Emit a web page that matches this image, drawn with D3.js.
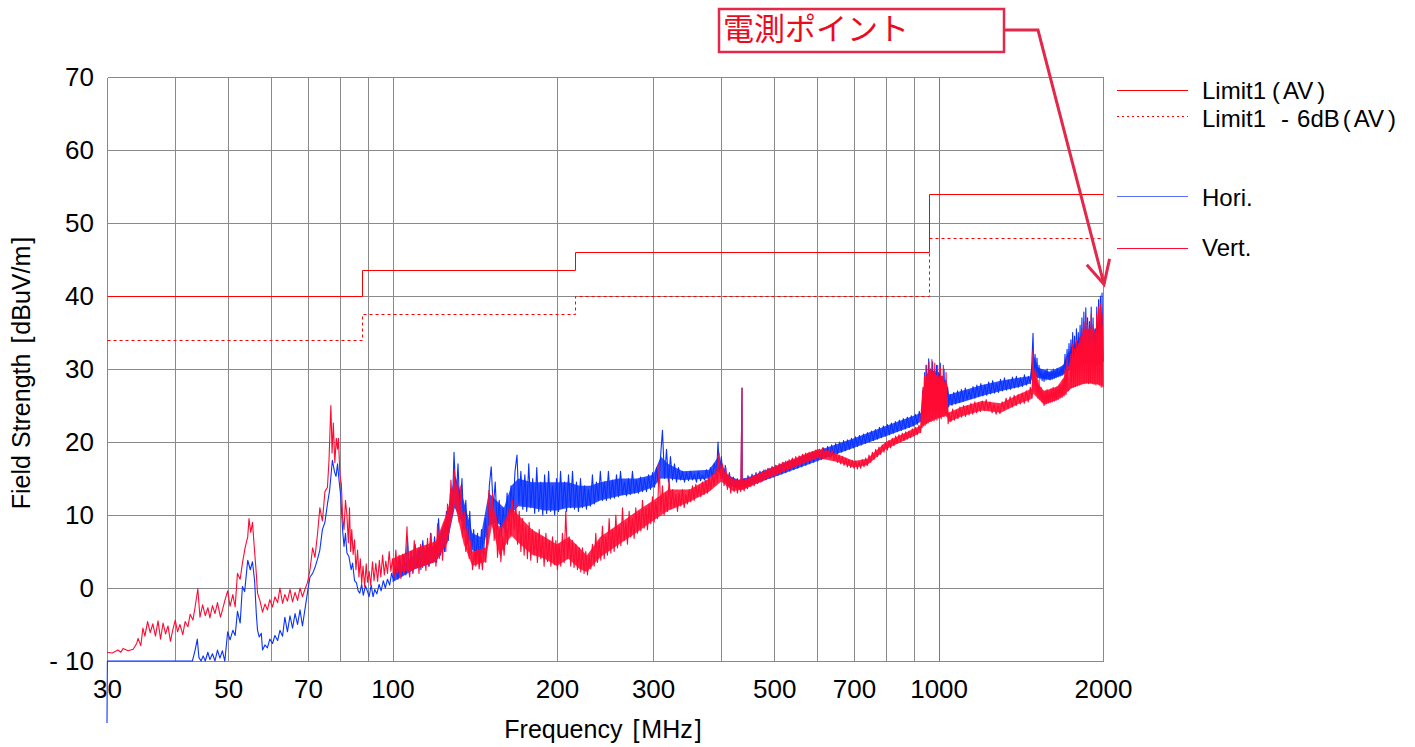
<!DOCTYPE html>
<html><head><meta charset="utf-8">
<script src="https://cdn.jsdelivr.net/npm/d3@7"></script>
<style>
body{margin:0;background:#fff;}
svg{display:block;font-family:"Liberation Sans",Arial,sans-serif;}
</style></head><body>
<svg id="c" width="1415" height="747"></svg>
<script>
// ---------- data ----------
const xTicks=[30,50,70,100,200,300,500,700,1000,2000];
const xGrid=[30,40,50,60,70,80,90,100,200,300,400,500,600,700,800,900,1000,2000];
const yTicks=[-10,0,10,20,30,40,50,60,70];
const limitAV=[[30,40],[88,40],[88,43.5],[216,43.5],[216,46],[960,46],[960,54],[2000,54]];
const limitAV6=[[30,34],[88,34],[88,37.5],[216,37.5],[216,40],[960,40],[960,48],[2000,48]];

// Hori. trace (MHz, dBuV/m)
const horiData=[
[30,-18.5],[30.05,-10],[43,-10],[43.5,-8.5],[43.9,-7],[44.2,-9.5],[44.6,-10],[45,-9.3],[45.4,-10],[45.9,-8.8],[46.3,-9.8],[46.8,-9],[47.3,-10],[47.8,-8.5],[48.3,-9.6],[48.8,-8.6],[49.3,-10],
[49.9,-6],[50.4,-7.1],[51,-5.8],[51.5,-6.5],[52,-3.2],[52.6,-4.8],[53.1,0.2],[53.6,-0.5],[54.3,3.8],[54.9,2.5],[55.4,3.6],[55.9,1],[56.3,-3.5],[56.6,-5.8],[57,-6.7],[57.5,-6.2],[57.8,-8.5],
[58.4,-7.8],[59,-8.2],[59.6,-7],[60.3,-7.6],[60.9,-6.5],[61.6,-7.2],[62.2,-5.8],[62.9,-6.6],[63.5,-4],[64.2,-6],[64.9,-3.8],[65.6,-5.5],[66.3,-3.5],[67,-5],[67.7,-3],[68.4,-5.2],[69.1,-3],
[69.9,-0.5],[70.6,1.5],[71.4,2],[72.1,2.8],[72.9,4],[73.6,5.2],[74.4,8],[75.2,9],[76,11.5],[76.7,13.4],[77.6,17.5],[78.3,15.9],[78.8,15.3],[79.3,17],[79.8,14.8],[80.4,12.5],[81,8],[81.5,5.7],
[82,7.5],[82.5,4.8],[83.2,4.3],[84,2.5],[84.5,3.4],[85.2,1],[85.9,0.7],[86.5,-0.4],[87.1,-0.7],[87.8,0.5],[88.4,-1],[89.2,0.3],[90,-0.5],[90.6,-1.2],[91.4,0.4],[92.1,-1.2],[92.8,-0.2],[93.6,-0.8],
[94.5,0.5],[95.3,-0.4],[96.2,1],[97,0],[97.9,1.2],[98.8,0.4],[99.6,2],[100.5,1],[101.4,3],[102.3,1.2],[103.2,4],[104,1.6],[104.9,4.5],[105.8,1.8],[106.5,7],[107.3,2.5],[108.2,5],[109,2],[110,6],
[110.9,2.8],[111.8,5.5],[112.7,2.5],[113.6,6.5],[114.6,3.2],[115.5,5.8],[116.5,3],[117.4,7.5],[118.4,3.8],[119.4,7],[120.4,3.5],[121.4,9.5],[122.4,4.5],[123.4,8],[124.5,5],[125.5,10.5],[126.5,6.5],
[127.6,13],[128.6,10],[129.6,18.6],[130.7,12],[131.8,17],[132.9,10],[134,15],[135.1,8],[136.2,12],[137.3,6],[138.5,10.5],[139.6,5],[140.8,8],[141.9,3.5],[143.1,7.5],[144.3,3.5],[145.5,8],[146.7,4],
[147.9,9.5],[149.2,6],[150.4,14],[151.6,16.6],[152.9,11],[154.2,14.5],[155.5,8],[156.8,12],[158.1,7],[159.4,11],[160.8,7.5],[162.1,13],[163.5,9],[164.8,14],[166.2,10.5],[167.6,16],[169,18.2],
[170.4,11.5],[171.8,16],[173.2,10.8],[174.7,15.5],[176.1,10.5],[177.6,17],[179.1,11],[180.6,15],[182.1,10.2],[183.7,16.5],[185.2,10.5],[186.8,14.5],[188.4,10],[189.9,15.5],[191.5,10.2],[193.1,16],
[194.8,10.5],[196.4,14],[198.1,10],[199.7,15],[201.4,10.5],[203.1,16],[204.8,11],[206.5,14.5],[208.3,10.5],[210,15.5],[211.8,11],[213.6,16],[215.4,10.8],[217.2,14.5],[219,10.5],[220.9,15],[222.7,11],
[224.6,14],[226.5,10.8],[228.4,13.5],[230.3,11.2],[232.3,15.5],[234.2,11.5],[236.2,14.5],[238.2,12],[240.2,16],[242.3,12],[244.3,14.5],[246.4,12],[248.5,16],[250.6,12.2],[252.8,14.8],[254.9,12.3],
[257.1,15.5],[259.3,12.5],[261.5,16],[263.7,12.8],[265.9,14.5],[268.2,12.6],[270.4,15],[272.7,12.8],[275,16],[277.4,13],[279.7,14.8],[282.1,13],[284.5,15.2],[286.9,13.2],[289.4,15],[291.8,13.2],
[294.3,15.5],[296.8,13.5],[299.3,15.8],[301.8,13.8],[304.4,16.5],[307,14],[309.6,18],[312.1,21.6],[314.8,15],[317.5,19],[320.1,14.5],[322.8,18],[325.6,14.8],[328.3,17],[331.1,14.5],[333.9,16.5],
[336.8,14.8],[339.6,16],[342.5,14.5],[345.4,15.8],[348.3,14.7],[351.3,16],[354.2,14.8],[357.2,15.6],[360.2,14.5],[363.3,16],[366.4,14.7],[369.4,15.5],[372.6,14.8],[375.7,16.2],[378.9,15],[382.1,16.5],
[385.3,15.2],[388.6,17],[391.9,15.5],[394.5,20],[397,16],[400,18],[403.5,14.5],[406.8,16.8],[410.3,13.8],[413.8,15.8],[417.3,14],[420.8,15.2],[424.3,13.8],[427.9,15],[431.5,13.6],[434.7,14.8],
[436.5,27.4],[436.9,14],[440.3,15],[444,13.8],[447.7,15.4],[451.5,14],[455.3,15.6],[459.1,14.2],[463,15.8],[466.9,14.4],[470.8,16],[474.8,14.6],[478.8,16.2],[482.8,14.8],[486.9,16.4],[491,15],
[495.1,16.6],[499.3,15.2],[503.5,16.8],[507.7,15.4],[512,17],[516.3,15.6],[520.7,17.2],[525.1,15.8],[529.5,17.4],[534,16],[538.5,17.6],[543,16.2],[547.6,17.8],[552.2,16.4],[556.9,18],[561.6,16.6],
[566.3,18.2],[571.1,16.8],[575.9,18.4],[580.7,17],[585.6,18.6],[590.6,17.2],[595.6,18.8],[600.5,17.4],[605.6,19],[610.7,17.6],[615.9,19.2],[621,17.8],[626.3,19.4],[631.5,18],[636.9,19.6],[642.2,18.2],
[647.7,19.8],[653.1,18.4],[658.6,20],[664.2,18.6],[669.8,20.2],[675.4,18.8],[681.1,20.3],[686.9,19],[692.7,20.5],[698.5,19.2],[704.4,20.7],[710.3,19.4],[716.3,20.9],[722.4,19.6],[728.5,21.1],
[734.6,19.8],[740.8,21.3],[747,20],[753.3,21.5],[759.7,20.2],[766.1,21.7],[772.6,20.4],[779.1,22],[785.7,20.6],[792.3,22.2],[799,20.8],[805.7,22.4],[812.5,21],[819.4,22.6],[826.3,21.2],[833.3,22.8],
[840.3,21.4],[847.4,23],[854.5,21.6],[861.7,23.2],[869,21.8],[876.3,23.4],[883.7,22],[891.2,23.6],[898.7,22.2],[906.3,23.8],[913.9,22.4],[921.6,24.2],[929.4,22.8],
[935,27],[939,24],[943,29.5],[947,24.2],[951,30.5],[955,24.3],[959,31.4],[963,24.5],[967,30],[971,24.6],[975,31],[979,24.8],[983,29.8],[987,24.7],[991,30.5],[995,25],[999,29.5],[1003,25],[1007,30.8],
[1011,25.2],[1015,29],[1019,25.3],[1023,30],[1027,25.4],[1031,28.5],[1035,25.5],[1039,27.5],[1043,24.8],
[1050,26.5],[1058,25],[1066,26.8],[1075,25.2],[1083,27],[1092,25.4],[1101,27.2],[1110,25.6],[1119,27.4],[1128,25.8],[1137,27],[1146,25.9],[1156,27.6],[1165,26],[1175,27.8],[1185,26.2],[1195,28],
[1205,26.3],[1215,27.8],[1225,26.4],[1235,28.2],[1245,26.6],[1256,28.4],[1266,26.7],[1277,28],[1287,26.8],[1298,28.6],[1309,27],[1320,28.8],[1331,27.1],[1342,28.5],[1354,27.2],[1365,28.9],[1377,27.4],
[1388,29],[1400,27.5],[1412,28.8],[1424,27.6],[1436,29.2],[1448,27.8],[1460,29],[1472,28],[1480,30],[1489,34.9],[1495,29],[1502,32],[1508,29],[1514,31.5],[1520,28.8],[1527,30.5],[1533,28.6],
[1540,29.8],[1547,28.4],[1553,29.5],[1560,28.3],[1567,29.8],[1573,28.5],[1580,30],[1587,28.6],[1594,29.6],[1600,28.5],[1607,29.8],[1614,28.6],[1621,30],[1628,28.7],[1635,29.7],[1641,28.8],
[1648,30.1],[1655,28.9],[1662,29.8],[1669,29],[1676,30.2],[1683,29.1],[1690,30.5],[1697,29.3],[1704,32],[1711,29.5],[1719,32.7],[1726,29.8],[1733,33.5],
[1740,30],[1747,34],[1753,30.2],[1760,35],[1767,30.3],[1774,34.5],[1781,30.4],[1788,35.5],[1795,30.5],[1802,35],[1809,30.6],[1816,36],[1823,30.7],[1830,37],[1838,30.8],[1845,37.8],[1852,30.8],
[1860,38.4],[1867,30.9],[1874,37],[1882,30.8],[1889,36.5],[1896,30.9],[1903,38.5],[1911,30.8],[1918,37],[1926,30.7],[1933,35.5],[1941,30.6],[1948,38.5],[1956,30.8],[1963,39.5],[1970,30.6],
[1978,40],[1985,30.5],[1992,40.4],[2000,31]
];

// Vert. trace (MHz, dBuV/m)
const vertData=[
[30,-8.8],[30.7,-8.9],[31.4,-8.5],[31.8,-8.8],[32.1,-8.3],[32.8,-8.6],[33.5,-8.4],[34,-7.6],[34.2,-6.9],[34.6,-7.9],[34.9,-5.5],[35.2,-6.6],[35.6,-4.6],[36,-6.1],[36.4,-4.9],[36.8,-6.6],
[37.2,-4.5],[37.6,-7],[38,-4.8],[38.4,-6.3],[38.8,-5.2],[39.2,-7.3],[39.6,-5.7],[40,-4.4],[40.4,-6],[40.8,-5],[41.3,-6.4],[41.7,-4.6],[42.2,-5.3],[42.6,-3.6],[43.1,-4.4],[43.5,-2.6],[44,-0.1],
[44.4,-4],[44.9,-2.3],[45.4,-3.8],[45.9,-2.7],[46.3,-4.1],[46.8,-2.4],[47.3,-3.5],[47.8,-2],[48.4,-4],[48.9,-2.8],[49.4,-1.5],[49.9,-0.4],[50.4,-2.5],[51,-0.9],[51.5,-2.6],[52,2],[52.6,1.2],
[53.1,3.4],[53.7,5.5],[54.3,7],[54.6,9.5],[55,7.6],[55.4,9],[55.9,5],[56.3,2],[56.6,-0.7],[57.2,-1.8],[57.8,-3.3],[58.4,-2.2],[59,-3],[59.6,-1.6],[60.3,-2.6],[60.9,-1.2],[61.6,-2],[62.2,0],
[62.9,-2.1],[63.5,-0.9],[64.2,-1.8],[64.9,-0.2],[65.6,-1.9],[66.3,-0.6],[67,-1.7],[67.7,0],[68.4,-1.2],[69.1,-0.2],[69.9,0.8],[70.6,2.5],[71.4,5.5],[72.1,4.2],[72.9,7.5],[73.6,11],[74.4,9.2],
[75.2,13.2],[76,13.8],[76.5,17.5],[77.1,25],[77.5,18.5],[77.9,22.6],[78.4,17.2],[78.9,20.5],[79.3,19],[79.6,20.5],[80.1,15.5],[80.6,14.2],[81,9.8],[81.5,8],[82,12],[82.5,10],[83,6.2],[83.4,11],
[83.8,5],[84.2,8],[84.7,4.6],[85.2,6.6],[85.7,2.5],[86.3,5.2],[86.8,1.5],[87.3,4],[87.8,0.6],[88.3,3],[88.9,0.2],[89.5,3.3],[90,0.8],[90.6,2.3],[91.2,0.4],[91.9,3.6],[92.5,1],[93.2,3.4],[93.9,0.9],
[94.6,3.8],[95.2,1.5],[95.9,4.5],[96.6,1.8],[97.2,3.7],[97.9,2],[98.6,5],[99.3,2.3],[100,4],[100.7,1.5],[101.4,5.2],[102.1,2],[102.8,4.5],[103.6,1.3],[104.3,4.6],[105,2],[105.8,5.5],[106.3,8.4],
[106.8,3],[107.5,1.5],[108.2,5],[108.8,2.2],[109.6,6.5],[110.3,3],[111.1,5.2],[111.8,2],[112.6,6],[113.5,2.8],[114.3,5.5],[115.1,2.4],[115.9,6.8],[116.7,3],[117.6,7.5],[118.4,3.5],[119.2,6.2],
[120.1,3],[120.9,8.8],[121.8,4],[122.6,7],[123.5,3.8],[124.4,9],[125.2,5],[126.1,11.5],[127,8],[127.9,14.8],[128.8,11],[129.7,16.2],[130.6,12],[131.5,15],[132.4,9],[133.4,14],[134.3,7],[135.3,10.5],
[136.2,5],[137.2,8.5],[138.2,4],[139.2,6.5],[140.1,2.5],[141.1,5],[142.1,3],[143.1,5.5],[144.1,2.6],[145.1,4.8],[146.1,2.5],[147.1,5.5],[148.2,3.5],[149.2,8.5],[150.2,13.4],[151.3,9],[152.4,13],
[153.5,6.5],[154.6,10],[155.7,4.2],[156.8,8.5],[157.9,3.6],[159,7],[160.1,4.5],[161.3,9],[162.4,6],[163.5,11],[164.7,7],[165.8,12],[167,8],[168.2,11.5],[169.4,6],[170.6,10.5],[171.8,5],[173,9.5],
[174.2,4.5],[175.4,8.5],[176.6,4],[177.9,9],[179.1,3.8],[180.4,8],[181.7,4.5],[183,7.5],[184.2,3.5],[185.6,8],[186.9,4],[188.2,7],[189.5,3],[190.9,7.5],[192.2,3.6],[193.6,6.5],[195,3],[196.3,7],
[197.8,3.2],[199.1,6.5],[200.4,2.5],[201.8,6],[203.3,3],[204.7,7.5],[206.2,3.5],[207.6,10.5],[209.1,4],[210.6,7],[212,3],[213.5,6.5],[215,2.8],[216.6,6],[218.1,2.5],[219.7,5.5],[221.2,2.2],
[222.7,5.5],[224.3,2],[225.9,5],[227.5,1.8],[229.1,4.5],[230.7,2.6],[232.3,6],[234,3],[235.6,7.5],[237.3,3.5],[239,6.5],[240.7,3.8],[242.3,8.5],[244.1,4],[245.8,7],[247.5,4.5],[249.3,9.5],
[251,4.8],[252.8,8],[254.6,5],[256.4,10],[258.2,5.5],[260,8.5],[261.9,5.8],[263.7,11],[265.6,6.5],[267.4,9],[269.3,6],[271.2,10.5],[273.1,7],[275,9.5],[277,6.8],[278.9,11],[280.9,7.5],[282.9,10.5],
[284.9,7.8],[286.9,12],[288.9,8.2],[291,11],[293,8],[295.1,11.5],[297.1,8.8],[299.2,12.5],[301.3,9],[303.4,11.8],[305.6,9.5],[307.7,17],[309.9,10.5],[312.1,14],[314.3,10],[316.5,13],[318.8,10.5],
[321,15],[323.3,10.8],[325.6,13.5],[327.9,11],[330.2,12.8],[332.5,10.5],[334.9,13],[337.2,11.2],[339.6,13.5],[342,11],[344.4,12.8],[346.8,11.5],[349.3,13.5],[351.7,11.8],[354.2,14],[356.7,12],
[359.2,14.2],[361.7,12.5],[364.3,14],[366.8,12.5],[369.4,14.5],[372,12.8],[374.7,14.8],[377.3,13],[380,15.2],[382.6,13.5],[385.3,15.5],[388,14],[390.8,16.5],[393.5,14.5],[396.2,18.5],[399,15],
[401.9,17],[404.7,14],[407.6,16.5],[410.5,13.5],[413.3,15.5],[416.3,13],[419.2,15],[422.2,13.2],[425.1,14.8],[428.1,13],[431.1,14.5],[434.2,13.2],[436.5,27.4],[436.7,13.5],[437.3,14.5],[440.4,13.3],
[443.5,15],[446.6,13.6],[449.7,15.2],[452.9,13.9],[456.1,15.4],[459.3,14],[462.6,15.6],[465.8,14.3],[469.1,15.8],[472.4,14.5],[475.7,16],[479.1,14.8],[482.4,16.2],[485.8,15],[489.3,16.4],[492.7,15.2],
[496.2,16.6],[499.7,15.3],[503.2,16.8],[506.7,15.5],[510.3,17],[513.9,15.8],[517.5,17.2],[521.2,16],[524.8,17.4],[528.6,16.2],[532.3,17.6],[536,16.4],[539.8,17.8],[543.6,16.6],[547.5,18],[551.3,16.8],
[555.2,18.1],[559.1,17],[563.1,18.3],[567.1,17.2],[571.1,18.5],[575.1,17.3],[579.2,18.6],[583.2,17.5],[587.3,18.7],[591.5,17.6],[595.6,18.9],[599.8,17.8],[604.1,19],[608.3,18],[612.6,19.2],[617,18],
[621.3,19.1],[625.6,18.2],[630.1,18.9],[634.5,17.8],[638.9,18.8],[643.4,17.5],[648,18.5],[652.5,17.2],[657.1,18.2],[661.7,17],[666.4,18],[671.1,16.8],[675.8,17.8],[680.6,16.6],[685.4,17.6],[690.2,16.5],
[695.1,17.5],[700,16.4],[704.9,17.4],[709.9,16.3],[714.9,17.3],[720,16.4],[725,17.6],[730.1,16.6],[735.3,17.8],[740.4,16.8],[745.6,18.2],[750.9,17.2],[756.2,18.6],[761.5,17.6],[766.9,19],[772.3,18],
[777.7,19.3],[783.2,18.3],[788.7,19.6],[794.3,18.6],[799.9,19.9],[805.5,18.9],[811.2,20.2],[816.9,19.2],[822.6,20.5],[828.4,19.5],[834.2,20.8],[840.1,19.8],[846,21],[852,20],[858,21.2],[864.1,20.2],
[870.2,21.4],[876.3,20.4],[882.5,21.5],[888.7,20.6],[894.9,21.8],[901.2,20.8],[907.6,22],[914,21],[920.4,22.3],[926.9,21.3],
[930,24.5],[933,22],[936,27.5],[939,22.2],[942,29],[945,22.3],[948,30.5],[951,22.5],[954,29],[957,22.6],[960,31],[963,22.8],[966,30],[969,22.8],[972,31.3],[975,23],[978,29.5],[981,22.9],[984,30.8],
[987,23.2],[990,29],[993,23],[996,30.5],[999,23.3],[1002,28.5],[1005,23.4],[1008,30.2],[1011,23.2],[1014,29],[1017,23.6],[1020,30.5],[1023,23.5],[1026,28],[1029,23.8],[1032,29.5],[1035,23.5],
[1038,26],[1041,22.5],
[1045,24],[1053,22.8],[1061,24.5],[1069,23],[1077,24.3],[1085,23.2],[1094,24.8],[1102,23.4],[1111,25],[1120,23.5],[1128,25],[1137,23.7],[1146,25.3],[1155,23.8],[1165,25.5],[1174,24],[1183,25.4],
[1193,24.2],[1202,25.6],[1212,24.3],[1222,25.8],[1232,24.4],[1242,25.5],[1253,24],[1263,25.2],[1274,23.8],[1285,25],[1295,23.9],[1307,25.5],[1318,24.4],[1329,26],[1340,24.6],[1352,26.2],[1364,24.8],
[1375,26.4],[1387,25],[1399,26.5],[1411,25.2],[1422,26.7],[1435,25.3],[1447,27],[1459,25.5],[1472,27.5],[1483,26],[1489,32.6],[1495,27],[1502,30],[1508,26.5],[1514,29.5],[1520,26],[1527,28.5],
[1533,25.8],[1540,27.5],[1547,25.5],[1553,27],[1560,25],[1567,27],[1573,25.2],[1580,27.2],[1587,25.3],[1594,27],[1600,25.4],[1607,27.3],[1614,25.5],[1621,27.5],[1628,25.6],[1635,27.4],[1641,25.7],
[1648,27.6],[1655,25.8],[1662,27.8],[1669,26],[1676,27.9],[1683,26.1],[1690,28.5],[1697,26.3],[1704,30],[1711,26.5],[1719,31.5],[1726,27],
[1740,27.3],[1747,32],[1753,27.4],[1760,33.5],[1767,27.5],[1774,32.8],[1781,27.6],[1788,34],[1795,27.7],[1802,33.5],[1809,27.8],[1816,34.5],[1823,27.9],[1830,35.5],[1838,28],[1845,36.5],[1852,28],
[1860,37.2],[1867,28.1],[1874,36],[1882,28],[1889,35],[1896,28.1],[1903,37.5],[1911,28],[1918,36],[1926,27.9],[1933,34],[1941,27.8],[1948,37.5],[1956,28],[1963,38.5],[1970,27.8],[1978,39],
[1985,27.5],[1992,37.5],[2000,27.5]
];

// dense-noise core of each trace: [MHz, low, high]
const horiBand=[
[100,0.8,2.2],[110,2.6,4.6],[120,3.6,6],[126,6.2,10],[130,11,15.5],[135,8.5,12],[140,5.2,7.5],[145,4.2,7],[150,8.5,13],[155,9,12],[160,8.2,11],[165,10.2,14],[170,11.2,15],[180,11,14.5],
[190,10.6,14.5],[200,10.6,14.5],[210,11,14.5],[220,11,14],[230,11.3,14],[240,12,14.5],[260,12.6,15],[280,13,15],[300,13.8,15.5],[310,15,18],[320,15,17],[340,14.8,16],[380,15,16.2],
[395,16,18],[410,14,15.5],[430,13.8,14.8],[450,14,15.2],[500,15.2,16.6],[600,17.4,18.8],[700,19.2,20.5],[800,20.8,22.2],[900,22.2,23.6],[929,22.8,24],[935,24,27],[960,24.5,30],[1000,25,29.5],
[1036,25.5,28],[1045,25,26.5],[1100,25.4,27],[1200,26.3,27.8],[1300,27,28.4],[1400,27.5,28.8],[1470,28,29],[1490,29,32],[1520,28.8,30.2],[1600,28.5,29.6],[1690,29.2,30.5],[1720,29.6,32],
[1760,30.2,33],[1820,30.7,34.5],[1870,30.9,35.5],[1920,30.8,35],[1970,30.6,36.5],[2000,31,37]
];
const vertBand=[
[100,2,4],[110,2.6,5.4],[120,3.6,6.4],[126,6.2,10.5],[130,11.5,15],[135,6,9.5],[140,3,5],[148,3.6,5.5],[152,8.5,12],[157,4.5,8],[165,7.2,11],[170,6.2,10],[180,4.6,8],[190,4,7],[200,3,6],
[210,4,7],[220,2.6,5.5],[227,2.2,4.5],[240,4.2,7],[260,6,8.8],[280,7.6,10.5],[300,9.2,12],[320,10.6,13.5],[350,11.8,13.5],[380,13.2,15],[400,14.6,16.5],[420,13.3,14.9],[440,13.5,14.8],
[500,15.4,16.6],[600,17.8,19],[650,17.3,18.4],[700,16.5,17.4],[740,16.8,17.7],[800,19,20],[900,20.8,21.8],[927,21.3,22.2],[933,22.2,26.5],[960,22.7,30],[1000,23.3,29],[1036,23.6,28],
[1042,22.7,24],[1100,23.5,24.8],[1200,24.3,25.6],[1300,24,25.3],[1400,25.2,26.5],[1480,25.9,27.3],[1490,26.6,30],[1520,26,28],[1560,25.1,27],[1650,25.8,27.6],[1700,26.4,29],[1740,27.3,31],
[1800,27.7,33],[1850,28,35.5],[1900,28,35.5],[1950,27.9,35],[2000,27.6,36]
];

const legendLabels=["Limit1(AV)","Limit1 -6dB(AV)","Hori.","Vert."];
const annotationText="電測ポイント";

// ---------- styling / layout ----------
const RED="#ff0a32", BLUE="#0a32ff", LIM="#ff0000", GRID="#8a8a8a";
const svg=d3.select("#c");
const x=d3.scaleLog().domain([30,2000]).range([107,1103]);
const y=d3.scaleLinear().domain([-10,70]).range([661,77]);
const px=v=>Math.round(x(v))+0.5, py=v=>Math.round(y(v))+0.5;

// grid
const g=svg.append("g");
g.selectAll(".vg").data(xGrid).join("line")
 .attr("x1",px).attr("x2",px).attr("y1",py(70)).attr("y2",py(-10))
 .attr("stroke",d=>d===1000?"#7a7a7a":GRID).attr("stroke-width",d=>d===1000?1.6:1).attr("shape-rendering","crispEdges");
g.selectAll(".hg").data(yTicks).join("line")
 .attr("x1",px(30)).attr("x2",px(2000)).attr("y1",py).attr("y2",py)
 .attr("stroke",GRID).attr("stroke-width",1).attr("shape-rendering","crispEdges");

// axes labels
const FONT="'Liberation Sans',Arial,sans-serif";
const xa=svg.append("g").attr("transform","translate(0,661)")
 .call(d3.axisBottom(x).tickValues(xTicks).tickFormat(d3.format("d")).tickSize(0).tickPadding(19));
xa.select(".domain").remove();
xa.selectAll("text").attr("font-size",26).attr("font-family",FONT).attr("fill","#000");
const ya=svg.append("g").attr("transform","translate(107,0)")
 .call(d3.axisLeft(y).tickValues(yTicks).tickFormat(d=>d<0?"- "+(-d):String(d)).tickSize(0).tickPadding(13));
ya.select(".domain").remove();
ya.selectAll("text").attr("font-size",26).attr("font-family",FONT).attr("fill","#000");

// titles
const xt=svg.append("text").attr("x",603).attr("y",738).attr("text-anchor","middle").attr("font-size",25).attr("fill","#000");
xt.append("tspan").text("Frequency");
xt.append("tspan").attr("dx",10).text("[");
xt.append("tspan").attr("dx",2).text("MHz");
xt.append("tspan").attr("dx",2).text("]");
const yt=svg.append("text").attr("transform","translate(30,373) rotate(-90)").attr("text-anchor","middle").attr("font-size",25).attr("fill","#000");
yt.append("tspan").text("Field Strength");
yt.append("tspan").attr("dx",10).text("[");
yt.append("tspan").attr("dx",2).text("dBuV/m");
yt.append("tspan").attr("dx",2).text("]");

// lines
const line=d3.line().x(d=>x(d[0])).y(d=>y(d[1]));
const band=d3.area().x(d=>x(d[0])).y0(d=>y(d[1])).y1(d=>y(d[2])).curve(d3.curveLinear);
const stepLine=d3.line().x(d=>Math.round(x(d[0]))+0.5).y(d=>Math.round(y(d[1]))+0.5);
svg.append("path").datum(limitAV).attr("d",stepLine).attr("fill","none").attr("stroke",LIM).attr("stroke-width",1);
svg.append("path").datum(limitAV6).attr("d",stepLine).attr("fill","none").attr("stroke",LIM).attr("stroke-width",1).attr("stroke-dasharray","3,3");
svg.append("path").datum(horiBand).attr("d",band).attr("fill",BLUE).attr("fill-opacity",0.85);
svg.append("path").datum(horiData).attr("d",line).attr("fill","none").attr("stroke",BLUE).attr("stroke-width",1.1).attr("stroke-linejoin","round");
svg.append("path").datum(vertBand).attr("d",band).attr("fill",RED).attr("fill-opacity",0.85);
svg.append("path").datum(vertData).attr("d",line).attr("fill","none").attr("stroke",RED).attr("stroke-width",1.1).attr("stroke-linejoin","round");

// legend
const leg=[{y:90.5,c:LIM,dash:null},{y:116.5,c:LIM,dash:"2,3"},{y:196.5,c:"#5a6eff",dash:null},{y:248.5,c:RED,dash:null}];
const ty=[99,127,206,256];
leg.forEach(l=>{
  svg.append("line").attr("x1",1117).attr("x2",1188).attr("y1",l.y).attr("y2",l.y)
   .attr("stroke",l.c).attr("stroke-width",1).attr("stroke-dasharray",l.dash);
});
function legText(i,parts){
  const t=svg.append("text").attr("x",1202).attr("y",ty[i]).attr("font-size",24).attr("fill","#000");
  parts.forEach(p=>t.append("tspan").attr("dx",p[0]).text(p[1]));
}
legText(0,[[0,"Limit1"],[6,"("],[3,"AV"],[4,")"]]);
legText(1,[[0,"Limit1"],[15,"-"],[8,"6dB"],[3,"("],[3,"AV"],[4,")"]]);
legText(2,[[0,legendLabels[2]]]);
legText(3,[[0,legendLabels[3]]]);

// annotation
const AC="#e3284a";
svg.append("rect").attr("x",719).attr("y",9).attr("width",285).attr("height",43)
 .attr("fill","#fff").attr("stroke",AC).attr("stroke-width",2.5);
svg.append("text").attr("x",723).attr("y",40).attr("font-size",31).attr("fill","#ee0a1e")
 .attr("font-family","'Noto Sans CJK JP','Noto Sans CJK SC',sans-serif").text(annotationText);
const tip=[x(2000)+1,y(41.6)];
svg.append("path").attr("d",`M1004,30 L1038,30 L${tip[0]},${tip[1]}`).attr("fill","none")
 .attr("stroke",AC).attr("stroke-width",3).attr("stroke-linejoin","miter");
const ang=Math.atan2(tip[1]-30,tip[0]-1038), L=26, w=0.47;
const w1=[tip[0]-L*Math.cos(ang-w),tip[1]-L*Math.sin(ang-w)], w2=[tip[0]-L*Math.cos(ang+w),tip[1]-L*Math.sin(ang+w)];
svg.append("path").attr("d",`M${w1[0]},${w1[1]} L${tip[0]},${tip[1]} L${w2[0]},${w2[1]}`).attr("fill","none")
 .attr("stroke",AC).attr("stroke-width",3);
</script></body></html>
